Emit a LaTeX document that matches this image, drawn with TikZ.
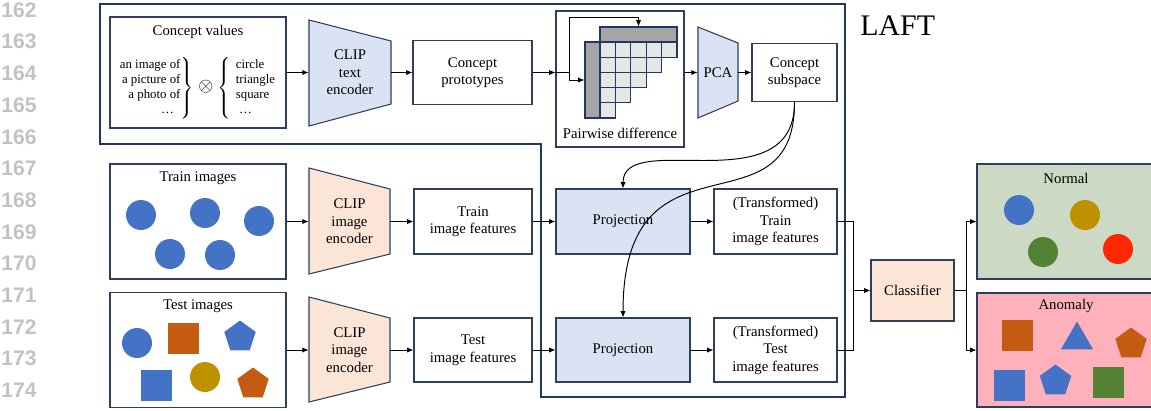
\documentclass[tikz,border=0pt]{standalone}
\usepackage{amsmath}
\usepackage{fontspec}
\setmainfont{Liberation Serif}
\newfontfamily\numfont{Liberation Sans}
\usepackage{tikz}
\usetikzlibrary{shapes.geometric,arrows.meta}
\definecolor{edge}{HTML}{2F3E5C}
\definecolor{navy}{HTML}{1F3864}
\definecolor{lblue}{HTML}{DAE3F3}
\definecolor{peach}{HTML}{FBE5D6}
\definecolor{sage}{HTML}{CCDAC5}
\definecolor{pink}{HTML}{FFB1BB}
\definecolor{dgray}{HTML}{A6A4A4}
\definecolor{lgray}{HTML}{E7E6E6}
\definecolor{cblue}{HTML}{4472C4}
\definecolor{corange}{HTML}{C55A11}
\definecolor{cgold}{HTML}{BF9000}
\definecolor{cgreen}{HTML}{548235}
\definecolor{cred}{HTML}{FF2600}

\begin{document}
\begin{tikzpicture}[x=0.02cm, y=-0.02cm, >={Latex[length=3.6pt,width=3pt]},
    every node/.append style={font=\fontsize{8.4}{10}\selectfont},
    dims/.style 2 args={minimum width=#1*0.02cm, minimum height=#2*0.02cm}]
  \tikzstyle{box} = [draw=edge, line width=0.6pt, inner sep=0pt, align=center]
  \tikzstyle{word} = [inner sep=0pt, align=center]
  \tikzstyle{num} = [font=\numfont\bfseries\fontsize{12}{14}\selectfont, color=black!24, anchor=east, inner sep=0pt]
  \tikzstyle{link} = [line width=0.55pt, black]
  \tikzstyle{enc} = [draw=edge, line width=0.6pt]
  \tikzstyle{cell} = [draw=navy, line width=0.6pt, fill=lgray]
  \tikzstyle{dot} = [circle, minimum size=30*0.02cm, inner sep=0pt]
  \tikzstyle{sq} = [rectangle, minimum size=31*0.02cm, inner sep=0pt]
  \tikzstyle{pent} = [regular polygon, regular polygon sides=5, minimum size=33*0.02cm, inner sep=0pt]
  \tikzstyle{tri} = [regular polygon, regular polygon sides=3, minimum size=37*0.02cm, inner sep=0pt]
  \useasboundingbox (0,0) rectangle (1151,410);

  \foreach \n [count=\i from 0] in {162,...,174}
    \node[num] (ln\n) at (37,{10+31.7*\i}) {\n};

  \draw[navy, line width=0.9pt] (100,4) -- (845,4) -- (845,397) -- (541,397) -- (541,144) -- (100,144) -- cycle;
  \node[anchor=west, inner sep=0pt, font=\fontsize{17}{20}\selectfont] (laft) at (860,26) {LAFT};

  \node[box, dims={176}{111}] (vals) at (198,72.5) {};
  \node[word] (valstitle) at (198,32) {Concept values};
  \node[word, font=\fontsize{7.3}{8.6}\selectfont] (valslist) at (197.5,88)
    {$\left.\begin{array}{@{}r@{}}\text{an image of}\\\text{a picture of}\\\text{a photo of}\\\text{\dots\ \ }\end{array}\right\}
      \mkern3mu\text{\fontsize{11}{11}\selectfont$\otimes$}\mkern2mu
      \left\{\mkern7mu\begin{array}{@{}l@{}}\text{circle}\\\text{triangle}\\\text{square}\\\text{\ \dots}\end{array}\right.$};

  \filldraw[enc, fill=lblue] (309,20) -- (391,41) -- (391,104) -- (309,126) -- cycle;
  \node[word, dims={82}{106}] (clipt) at (350,72.5) {CLIP\\text\\encoder};
  \node[box, dims={119}{64}] (proto) at (472.5,72.5) {Concept\\prototypes};
  \node[box, dims={128}{136}] (pair) at (620,79) {};
  \node[word] (pairtitle) at (620,133) {Pairwise difference};
  \foreach \r in {0,...,4} {
    \pgfmathtruncatemacro\m{4-\r}
    \foreach \c in {0,...,\m}
      \filldraw[cell] ({600+15.4*\c},{42+15.2*\r}) rectangle +(15.4,15.2);
  }
  \node[cell, fill=dgray, inner sep=0pt, dims={77}{15}] (difrow) at (638.5,34.5) {};
  \node[cell, fill=dgray, inner sep=0pt, dims={15}{76}] (difcol) at (592.5,80) {};
  \filldraw[enc, fill=lblue] (698,27) -- (738,43) -- (738,101) -- (698,118) -- cycle;
  \node[word, dims={40}{91}] (pca) at (718,72.5) {PCA};
  \node[box, dims={85}{58}] (sub) at (794.5,72.5) {Concept\\subspace};

  \node[box, dims={176}{115}] (train) at (198,221.5) {};
  \node[word] (traintitle) at (198,178) {Train images};
  \foreach \x/\y [count=\i] in {141/215, 205/213, 259/221, 170/254, 220/255}
    \node[dot, fill=cblue] (tr\i) at (\x,\y) {};
  \filldraw[enc, fill=peach] (309,168) -- (390,189) -- (390,254) -- (309,274) -- cycle;
  \node[word, dims={81}{106}] (clipi) at (349.5,221.5) {CLIP\\image\\encoder};
  \node[box, dims={118}{65}] (trainf) at (473,221.5) {Train\\image features};
  \node[box, fill=lblue, dims={134}{65}] (proja) at (623,221.5) {Projection};
  \node[box, dims={123}{65}] (traino) at (775.5,221.5) {(Transformed)\\Train\\image features};

  \node[box, dims={176}{115}] (test) at (198,350) {};
  \node[word] (testtitle) at (198,306) {Test images};
  \node[dot, fill=cblue] (te1) at (137,343) {};
  \node[sq, fill=corange] (te2) at (183,338) {};
  \node[pent, fill=cblue] (te3) at (240,337) {};
  \node[sq, fill=cblue] (te4) at (156.5,385.5) {};
  \node[dot, fill=cgold] (te5) at (205,377) {};
  \node[pent, fill=corange] (te6) at (253,384) {};
  \filldraw[enc, fill=peach] (309,297) -- (390,318) -- (390,382) -- (309,402) -- cycle;
  \node[word, dims={81}{105}] (clipii) at (349.5,350) {CLIP\\image\\encoder};
  \node[box, dims={118}{64}] (testf) at (473,350) {Test\\image features};
  \node[box, fill=lblue, dims={134}{64}] (projb) at (623,350) {Projection};
  \node[box, dims={123}{64}] (testo) at (775.5,350) {(Transformed)\\Test\\image features};

  \node[box, fill=peach, dims={83}{61}] (cls) at (912.5,290.5) {Classifier};
  \node[box, fill=sage, dims={183}{115}] (normal) at (1068.5,221.5) {};
  \node[word] (normaltitle) at (1066,178) {Normal};
  \foreach \x/\y/\c [count=\i] in {1019/210/cblue, 1085/215/cgold, 1043/252/cgreen, 1118/249/cred}
    \node[dot, fill=\c] (no\i) at (\x,\y) {};
  \node[box, fill=pink, dims={183}{114}] (anom) at (1068.5,350) {};
  \node[word] (anomtitle) at (1066,306) {Anomaly};
  \node[sq, fill=corange] (an1) at (1017.5,335.5) {};
  \node[tri, fill=cblue] (an2) at (1077,340) {};
  \node[pent, fill=corange] (an3) at (1131,344) {};
  \node[sq, fill=cblue] (an4) at (1009.5,385.5) {};
  \node[pent, fill=cblue] (an5) at (1055.5,381) {};
  \node[sq, fill=cgreen] (an6) at (1108.5,382.5) {};

  \coordinate (split) at (569,72.5);
  \coordinate (over) at (638.5,17);
  \coordinate (join) at (853,290.5);
  \coordinate (fork) at (966,290.5);
  \draw[link, ->] (vals) -- (clipt);
  \draw[link, ->] (clipt) -- (proto);
  \draw[link, ->] (proto.east) -- (proto.east -| pair.west);
  \draw[link] (proto.east -| pair.west) -- (split);
  \draw[link, ->] (split) |- (over) -- (difrow.north);
  \draw[link, ->] (split) |- (difcol.west);
  \draw[link, ->] (pair.east |- pca) -- (pca);
  \draw[link, ->] (pca) -- (sub);
  \draw[link, ->] (train) -- (clipi);
  \draw[link, ->] (clipi) -- (trainf);
  \draw[link, ->] (trainf) -- (proja);
  \draw[link, ->] (proja) -- (traino);
  \draw[link, ->] (test) -- (clipii);
  \draw[link, ->] (clipii) -- (testf);
  \draw[link, ->] (testf) -- (projb);
  \draw[link, ->] (projb) -- (testo);
  \draw[link, ->] (sub.south) .. controls (795,205) and (623,128) .. (proja.north);
  \draw[link, ->] (sub.south) .. controls (795,240) and (623,120) .. (projb.north);
  \draw[link] (traino.east) -| (join);
  \draw[link] (testo.east) -| (join);
  \draw[link, ->] (join) -- (cls);
  \draw[link] (cls) -- (fork);
  \draw[link, ->] (fork) |- (normal.west);
  \draw[link, ->] (fork) |- (anom.west);
\end{tikzpicture}
\end{document}
